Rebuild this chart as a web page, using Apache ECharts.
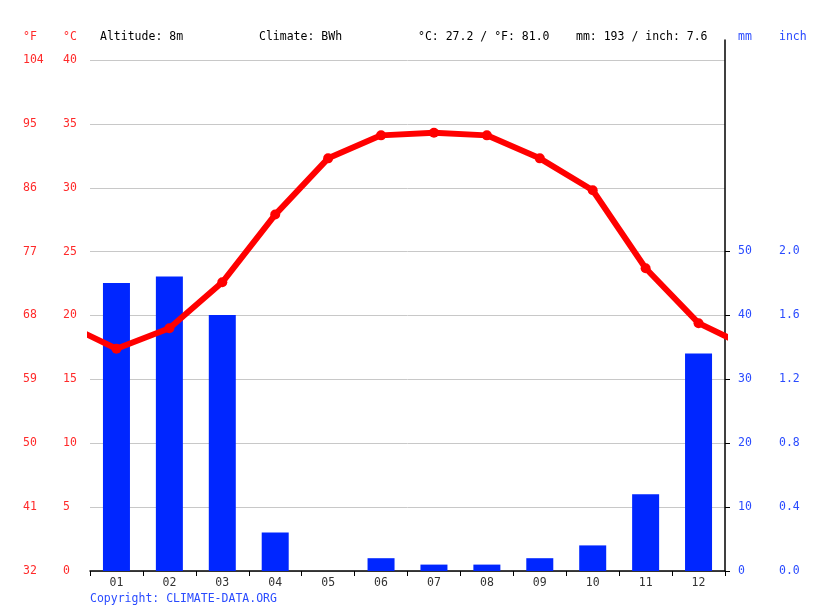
<!DOCTYPE html>
<html>
<head>
<meta charset="utf-8">
<script src="https://cdn.jsdelivr.net/npm/echarts@6/dist/echarts.min.js"></script>
<style>
  html, body { margin: 0; padding: 0; background: #fff; }
  #chart { width: 815px; height: 611px; }
</style>
</head>
<body>
<div id="chart"></div>
<script>
  // data
  var months = ['01', '02', '03', '04', '05', '06', '07', '08', '09', '10', '11', '12'];
  var tempC = [17.4, 19.0, 22.6, 27.9, 32.3, 34.1, 34.3, 34.1, 32.3, 29.8, 23.7, 19.4];
  var rainMm = [45, 46, 40, 6, 0, 2, 1, 1, 2, 4, 12, 34];
  var headerTexts = ['Altitude: 8m', 'Climate: BWh', '°C: 27.2 / °F: 81.0', 'mm: 193 / inch: 7.6'];

  var FONT = 'DejaVu Sans Mono';
  var RED = '#ff2a2a';
  var BLUE = '#2a4bff';

  // line points sit in the middle of each month; Dec/Jan repeated at the edges and clipped
  var lineData = [[-0.5, tempC[11]]];
  tempC.forEach(function (v, i) { lineData.push([i + 0.5, v]); });
  lineData.push([12.5, tempC[0]]);

  var chart = echarts.init(document.getElementById('chart'));
  var option = {
    animation: false,
    textStyle: { fontFamily: FONT },
    grid: [
      { left: 90, right: 90, top: 60, bottom: 40 },   // temperature
      { left: 90, right: 90, top: 251, bottom: 40 },  // precipitation 0-50
      { left: 90, right: 90, top: 40, bottom: 40 }    // tall right axis line
    ],
    xAxis: [
      {
        type: 'category', gridIndex: 1, data: months,
        boundaryGap: true,
        axisLine: { show: true, lineStyle: { color: '#000', width: 1.5 } },
        axisTick: { show: true, alignWithLabel: false, length: 5, lineStyle: { color: '#000' } },
        axisLabel: { color: '#333', fontFamily: FONT, fontSize: 11.5, margin: 6 },
        splitLine: { show: false }
      },
      {
        type: 'value', gridIndex: 0, min: 0, max: 12, show: false
      },
      {
        type: 'value', gridIndex: 2, min: 0, max: 1, show: false
      }
    ],
    yAxis: [
      { // °C
        type: 'value', gridIndex: 0, min: 0, max: 40, interval: 5,
        axisLine: { show: false }, axisTick: { show: false },
        axisLabel: { color: RED, fontFamily: FONT, fontSize: 11.5, align: 'left', margin: 27 },
        splitLine: { show: true, lineStyle: { color: '#c8c8c8' } }
      },
      { // °F
        type: 'value', gridIndex: 0, min: 32, max: 104, interval: 9, position: 'left',
        axisLine: { show: false }, axisTick: { show: false },
        axisLabel: { color: RED, fontFamily: FONT, fontSize: 11.5, align: 'left', margin: 67 },
        splitLine: { show: false }
      },
      { // mm
        type: 'value', gridIndex: 1, min: 0, max: 50, interval: 10, position: 'right',
        axisLine: { show: false, onZero: false },
        axisTick: { show: true, length: 5, lineStyle: { color: '#000' } },
        axisLabel: { color: BLUE, fontFamily: FONT, fontSize: 11.5, align: 'left', margin: 13 },
        splitLine: { show: false }
      },
      { // inch
        type: 'value', gridIndex: 1, min: 0, max: 2, interval: 0.4, position: 'right',
        axisLine: { show: false, onZero: false }, axisTick: { show: false },
        axisLabel: {
          color: BLUE, fontFamily: FONT, fontSize: 11.5, align: 'left', margin: 54,
          formatter: function (v) { return v.toFixed(1); }
        },
        splitLine: { show: false }
      },
      { // right axis line
        type: 'value', gridIndex: 2, min: 0, max: 1, position: 'right',
        axisLine: { show: true, onZero: false, lineStyle: { color: '#000', width: 1.5 } },
        axisTick: { show: false }, axisLabel: { show: false }, splitLine: { show: false }
      }
    ],
    series: [
      {
        name: 'mm', type: 'bar', xAxisIndex: 0, yAxisIndex: 2,
        data: rainMm, barWidth: 27,
        itemStyle: { color: '#0026ff' }, z: 2
      },
      {
        name: '°C', type: 'line', xAxisIndex: 1, yAxisIndex: 0,
        data: lineData, clip: true,
        symbol: 'circle', symbolSize: 10, showSymbol: true,
        lineStyle: { color: '#ff0000', width: 6 },
        itemStyle: { color: '#ff0000' }, z: 5
      }
    ],
    graphic: [
      { type: 'text', left: 23, top: 31, style: { text: '°F', fill: RED, font: '11.5px ' + FONT } },
      { type: 'text', left: 63, top: 31, style: { text: '°C', fill: RED, font: '11.5px ' + FONT } },
      { type: 'text', left: 100, top: 31, style: { text: headerTexts[0], fill: '#000', font: '11.5px ' + FONT } },
      { type: 'text', left: 259, top: 31, style: { text: headerTexts[1], fill: '#000', font: '11.5px ' + FONT } },
      { type: 'text', left: 418, top: 31, style: { text: headerTexts[2], fill: '#000', font: '11.5px ' + FONT } },
      { type: 'text', left: 576, top: 31, style: { text: headerTexts[3], fill: '#000', font: '11.5px ' + FONT } },
      { type: 'text', left: 738, top: 31, style: { text: 'mm', fill: BLUE, font: '11.5px ' + FONT } },
      { type: 'text', left: 779, top: 31, style: { text: 'inch', fill: BLUE, font: '11.5px ' + FONT } },
      { type: 'text', left: 90, top: 593, style: { text: 'Copyright: CLIMATE-DATA.ORG', fill: BLUE, font: '11.5px ' + FONT } }
    ]
  };
  chart.setOption(option);
</script>
</body>
</html>
